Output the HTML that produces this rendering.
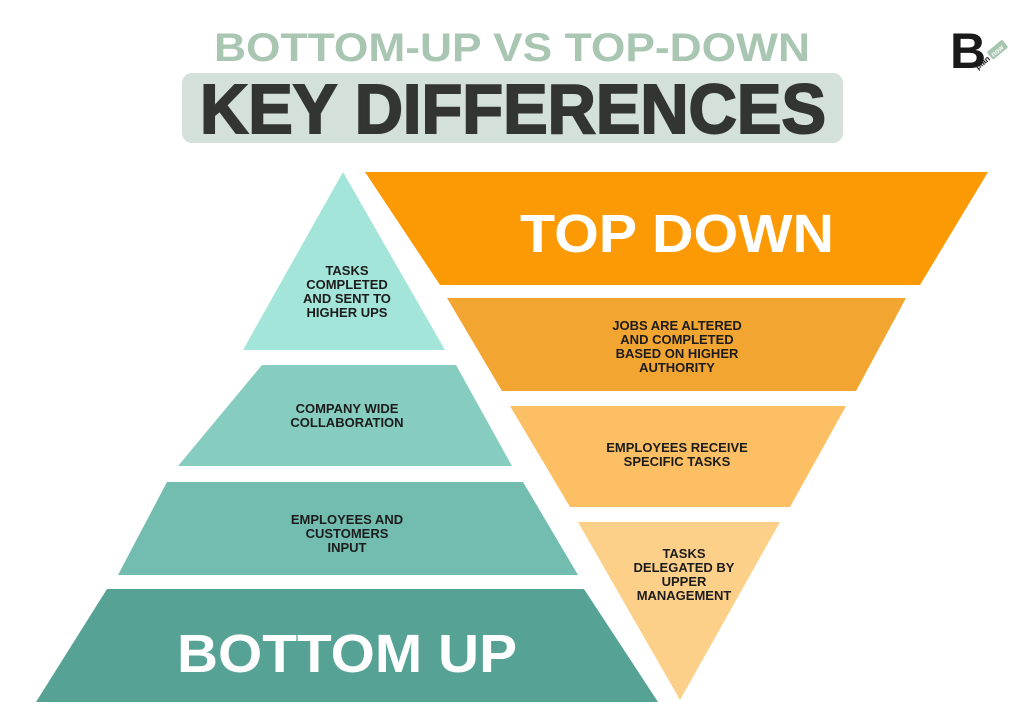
<!DOCTYPE html>
<html><head><style>
html,body{margin:0;padding:0;background:#fff;width:1024px;height:724px;overflow:hidden}
</style></head><body>
<svg width="1024" height="724" viewBox="0 0 1024 724" xmlns="http://www.w3.org/2000/svg" font-family="Liberation Sans, sans-serif" font-weight="bold">
<text x="512" y="61" text-anchor="middle" font-size="40" fill="#a9c6b2" textLength="596" lengthAdjust="spacingAndGlyphs">BOTTOM-UP VS TOP-DOWN</text>
<rect x="182" y="73" width="661" height="70" rx="10" fill="#d3e1da"/>
<text x="513" y="133" text-anchor="middle" font-size="70" fill="#333533" textLength="626" lengthAdjust="spacingAndGlyphs" stroke="#333533" stroke-width="2">KEY DIFFERENCES</text>
<!-- logo -->
<text x="950" y="68" font-size="50" fill="#1a1a1a">B</text>
<g transform="translate(978,70) rotate(-40)"><text x="0" y="0" font-size="8" fill="#222">plan</text><rect x="18" y="-8" width="20" height="10" rx="2" fill="#a9c6b2"/><text x="20" y="0" font-size="7" fill="#fff">now</text></g>
<!-- left pyramid -->
<polygon points="343,172 445,350 243,350" fill="#a4e5da"/>
<polygon points="262,365 456,365 512,466 178,466" fill="#86ccbf"/>
<polygon points="167,482 523,482 578,575 118,575" fill="#72bdaf"/>
<polygon points="107,589 584,589 658,702 36,702" fill="#56a294"/>
<!-- right inverted -->
<polygon points="365,172 988,172 920,285 440,285" fill="#fb9a04"/>
<polygon points="447,298 906,298 856,391 502,391" fill="#f3a532"/>
<polygon points="510,406 846,406 790,507 570,507" fill="#fdbf63"/>
<polygon points="578,522 780,522 680,700" fill="#fdd08a"/>
<g font-size="13" fill="#1c1c1c" text-anchor="middle">
<text x="347" y="275">TASKS</text><text x="347" y="289">COMPLETED</text><text x="347" y="303">AND SENT TO</text><text x="347" y="317">HIGHER UPS</text>
<text x="347" y="413">COMPANY WIDE</text><text x="347" y="427">COLLABORATION</text>
<text x="347" y="524">EMPLOYEES AND</text><text x="347" y="538">CUSTOMERS</text><text x="347" y="552">INPUT</text>
<text x="677" y="330">JOBS ARE ALTERED</text><text x="677" y="344">AND COMPLETED</text><text x="677" y="358">BASED ON HIGHER</text><text x="677" y="372">AUTHORITY</text>
<text x="677" y="452">EMPLOYEES RECEIVE</text><text x="677" y="466">SPECIFIC TASKS</text>
<text x="684" y="558">TASKS</text><text x="684" y="572">DELEGATED BY</text><text x="684" y="586">UPPER</text><text x="684" y="600">MANAGEMENT</text>
</g>
<text x="677" y="252" text-anchor="middle" font-size="54" fill="#fff" textLength="314" lengthAdjust="spacingAndGlyphs">TOP DOWN</text>
<text x="347" y="672" text-anchor="middle" font-size="54" fill="#fff" textLength="340" lengthAdjust="spacingAndGlyphs">BOTTOM UP</text>
</svg>
</body></html>
